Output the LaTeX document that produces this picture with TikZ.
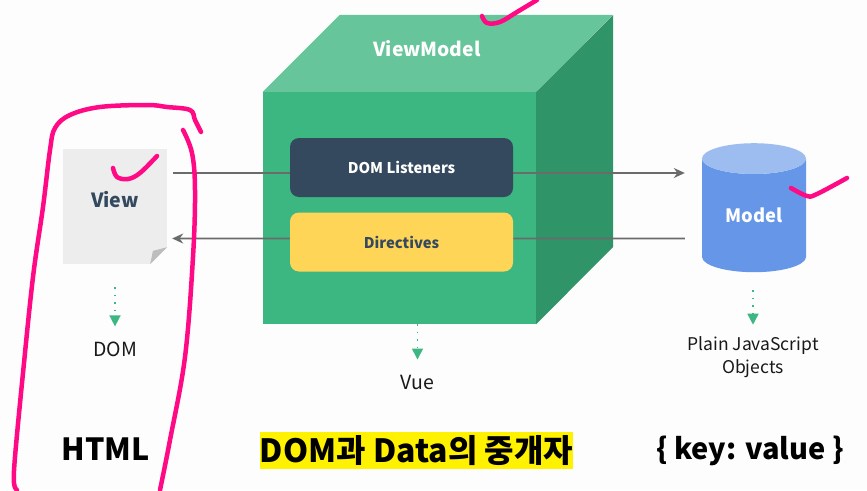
\documentclass[tikz,border=0pt]{standalone}
\usepackage{fontspec}
\setmainfont{Noto Sans CJK KR}
\usetikzlibrary{shapes.geometric, arrows.meta, positioning, calc}
\definecolor{pagebg}{HTML}{FDFDFE}
\definecolor{cubefront}{HTML}{3CB781}
\definecolor{cubetop}{HTML}{66C59A}
\definecolor{cubeside}{HTML}{2F9468}
\definecolor{navy}{HTML}{34495E}
\definecolor{amber}{HTML}{FFD557}
\definecolor{modelblue}{HTML}{6596E8}
\definecolor{modeltop}{HTML}{9DBDF0}
\definecolor{sheet}{HTML}{EDEDEE}
\definecolor{sheetfold}{HTML}{BDBDBD}
\definecolor{linegray}{HTML}{6B6B6B}
\definecolor{marker}{HTML}{FF0A84}
\begin{document}
\begin{tikzpicture}[
    x=1pt, y=-1pt,
    box/.style={rectangle, rounded corners=9pt, minimum width=223pt, minimum height=59pt, align=center, font=\fontsize{14.8}{18}\selectfont\bfseries},
    caption/.style={font=\fontsize{19.5}{23}\selectfont, align=center, inner sep=0pt, text=black!90},
    bigtext/.style={font=\fontsize{30.5}{38}\selectfont\bfseries, inner sep=0pt, text=black},
    arrow/.style={-{Stealth[length=11pt,width=10pt]}, line width=1.8pt, linegray},
    dotarrow/.style={-{Triangle[length=11pt,width=11pt]}, cubefront, line width=1.5pt, dash pattern=on 1.5pt off 6pt},
    pen/.style={marker, line width=4.5pt, line cap=round, line join=round}
]
    \fill[pagebg] (0,0) rectangle (867,490);
    \useasboundingbox (0,0) rectangle (867,490);

    % Cube
    \node[rectangle, fill=cubefront, minimum width=273pt, minimum height=232pt, inner sep=0pt] (cube) at (399.5,208) {};
    \fill[cubetop] (cube.north west) -- ++(77,-77) -- ++(273,0) -- (cube.north east) -- cycle;
    \fill[cubeside] (cube.north east) -- ++(77,-77) -- ++(0,232) -- (cube.south east) -- cycle;
    \node[font=\fontsize{19.3}{24}\selectfont\bfseries, text=white, inner sep=0pt] (vmlabel) at (427,49) {ViewModel};

    % View and Model
    \node[rectangle, fill=sheet, minimum width=104pt, minimum height=115pt, inner sep=0pt, text=navy, font=\fontsize{19.5}{24}\selectfont\bfseries, text depth=14pt] (view) at (115,206.5) {View};
    \fill[pagebg] ([yshift=17pt]view.south east) -- (view.south east) -- ([xshift=-17pt]view.south east) -- cycle;
    \fill[sheetfold] ([yshift=17pt]view.south east) -- ([xshift=-14.3pt,yshift=13.3pt]view.south east) -- ([xshift=-17pt]view.south east) -- cycle;
    \node[cylinder, shape border rotate=90, aspect=0.54, minimum width=104pt, minimum height=129pt, inner sep=0pt, cylinder uses custom fill, cylinder body fill=modelblue, cylinder end fill=modeltop, text=white, font=\fontsize{18.4}{23}\selectfont\bfseries] (model) at (754,215.5) {Model};

    % Arrows
    \draw[arrow, shorten <=6pt, shorten >=17pt] ([yshift=33.5pt]view.east) -- ([yshift=42.5pt]model.west);
    \draw[arrow, shorten <=17pt, shorten >=5pt] ([yshift=-23pt]model.west) -- ([yshift=-32pt]view.east);

    % Boxes
    \node[box, fill=navy, text=white] (listeners) at (401.5,167.5) {DOM Listeners};
    \node[box, fill=amber, text=navy] (directives) at (401.5,242) {Directives};

    % Labels below
    \node[caption] (dom) at (115,349) {DOM};
    \node[caption] (vue) at (417.5,382) {Vue};
    \node[caption, font=\fontsize{17.5}{23}\selectfont] (plain) at (753,357.5) {Plain JavaScript\\Objects};
    \draw[dotarrow, shorten <=23pt, shorten >=15pt] (view.south) -- (dom.north);
    \draw[dotarrow, shorten >=15pt] (cube.south -| vue) -- (vue.north);
    \draw[dotarrow, shorten <=18pt, shorten >=12pt] (model.south -| plain) -- (plain.north);

    % Bottom line
    \node[bigtext] (html) at (105.5,449) {HTML};
    \node[bigtext, font=\fontsize{32}{38}\selectfont\bfseries, fill=yellow, minimum width=313pt, minimum height=37pt] (broker) at (416.5,450.5) {DOM과 Data의 중개자};
    \node[bigtext, font=\fontsize{29}{38}\selectfont\bfseries] (keyvalue) at (750,451) {\{ key: value \}};

    % Pen strokes
    \draw[pen] plot[smooth, tension=0.6] coordinates {(201,132) (195,120) (190,110) (167,107) (147,105) (100,107) (70,115) (55,128) (50,150) (43,207) (33,277) (23,373) (15,457) (14,483) (17,490)};
    \draw[pen] plot[smooth, tension=0.6] coordinates {(183,130) (192,153) (195,190) (193,257) (185,357) (170,440) (160,490)};
    \draw[pen] plot[smooth, tension=0.6] coordinates {(113,168) (117,177) (128,179) (140,173) (157,156)};
    \draw[pen] plot[smooth, tension=0.6] coordinates {(482,16) (487,23) (500,22) (517,12) (537,0)};
    \draw[pen] plot[smooth, tension=0.6] coordinates {(791,188) (807,196) (817,194) (847,178)};
\end{tikzpicture}
\end{document}
